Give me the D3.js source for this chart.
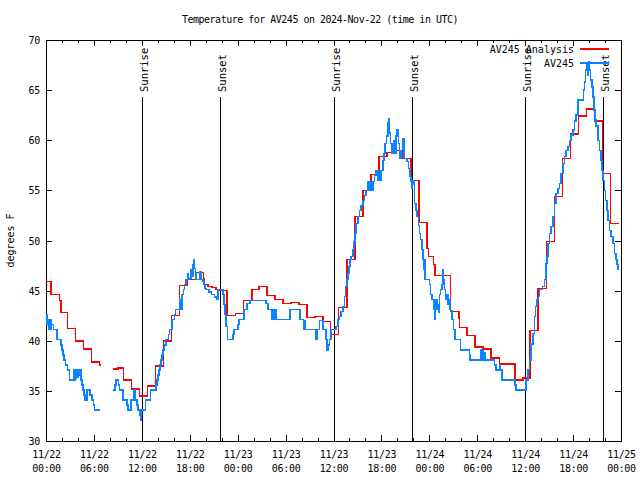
<!DOCTYPE html>
<html>
<head>
<meta charset="utf-8">
<script src="https://cdn.jsdelivr.net/npm/d3@7"></script>
<style>
  html, body { margin: 0; padding: 0; background: #fff; }
  svg { display: block; }
  text { font-family: "DejaVu Sans Mono", "Liberation Mono", monospace; font-size: 10px; fill: #000; }
  .title { font-size: 10px; letter-spacing: -0.5px; }
  .tick text { font-size: 10px; letter-spacing: -0.3px; }
  .sun { font-size: 10.5px; }
</style>
</head>
<body>
<svg id="chart" width="640" height="480"></svg>
<script>
// ---- DATA (hours since 2024-11-22 00:00 UTC) ----
const titleText = "Temperature for AV245 on 2024-Nov-22 (time in UTC)";
const yLabel = "degrees F";
const seriesNames = ["AV245 Analysis", "AV245"];
const seriesColors = ["#ff0000", "#0a84ff"];

const xMajorTicks = [0, 6, 12, 18, 24, 30, 36, 42, 48, 54, 60, 66, 72];
const xTickDates = ["11/22", "11/22", "11/22", "11/22", "11/23", "11/23", "11/23", "11/23", "11/24", "11/24", "11/24", "11/24", "11/25"];
const xTickTimes = ["00:00", "06:00", "12:00", "18:00", "00:00", "06:00", "12:00", "18:00", "00:00", "06:00", "12:00", "18:00", "00:00"];
const yTicks = [30, 35, 40, 45, 50, 55, 60, 65, 70];

const sunLabels = ["Sunrise", "Sunset", "Sunrise", "Sunset", "Sunrise", "Sunset"];
const sunTimes = [12.02, 21.77, 36.04, 45.8, 60.0, 69.72];

// AV245 Analysis (hourly, step-after); null = gap
const analysis = [
  [0, 45.9], [0.65, 44.6], [1.7, 44.0], [1.85, 42.8], [2.7, 41.2], [3.7, 40.0], [4.7, 39.2], [5.7, 37.9], [6.7, 37.6], [6.85, 37.6], [6.9, null],
  [8.45, 37.2], [9.0, 37.3], [9.7, 36.1], [10.7, 35.2], [11.7, 34.5], [12.7, 35.5], [13.7, 37.5], [14.7, 40.0], [15.7, 42.5],
  [16.7, 45.5], [17.7, 46.1], [18.7, 46.8], [19.72, 46.2], [19.85, 45.6], [20.3, 45.4], [20.8, 45.3], [21.3, 45.1], [21.7, 45.0],
  [22.65, 42.5], [23.7, 42.7], [24.7, 44.0], [25.77, 45.1], [26.7, 45.4], [27.7, 44.5], [28.7, 44.1], [29.7, 43.7], [30.7, 43.8],
  [31.7, 43.6], [32.7, 42.3], [33.7, 42.4], [34.7, 41.9], [35.65, 40.6], [36.6, 43.3], [37.7, 48.1], [38.7, 52.4], [39.7, 55.0],
  [40.7, 56.6], [41.7, 58.4], [42.7, 58.8], [43.7, 59.0], [44.7, 58.2], [45.7, 56.0], [46.7, 51.8], [47.7, 49.2], [47.9, 48.4],
  [48.55, 47.6], [48.7, 46.5], [50.65, 42.9], [51.7, 42.2], [51.8, 41.3], [52.73, 40.5], [53.74, 39.4], [54.69, 39.2], [55.74, 38.3],
  [56.79, 37.7], [58.75, 36.1], [59.7, 36.3], [60.6, 41.0], [61.6, 45.2], [62.7, 49.9], [63.7, 54.4], [64.7, 58.2], [65.7, 60.6],
  [66.7, 62.4], [67.7, 63.1], [68.7, 61.9], [69.7, 56.7], [70.7, 51.7], [71.7, 51.7]
];

// AV245 observations (step-after); null = gap
const observed = [
  [0.00, 42.6], [0.12, 41.6], [0.2, 42.1], [0.3, 41.1], [0.4, 42.1], [0.5, 41.1], [0.6, 42.1], [0.7, 41.6], [0.94, 41.1], [1.35, 40.1],
  [1.86, 39.6], [1.98, 39.1], [2.11, 38.6], [2.28, 38.1], [2.44, 37.6], [2.69, 37.1], [2.94, 36.1], [3.44, 36.6], [3.5, 37.1], [3.56, 36.1],
  [3.62, 37.1], [3.7, 36.3], [3.8, 37.1], [3.9, 36.4], [4.0, 37.1], [4.1, 36.6], [4.2, 37.1], [4.36, 36.1], [4.53, 35.6], [4.61, 35.1],
  [4.78, 34.6], [4.91, 34.1], [5.11, 35.1], [5.53, 34.6], [5.74, 34.1], [5.95, 33.6], [6.07, 33.1], [6.78, 33.1], [6.8, null],
  [8.45, 35.1], [8.66, 35.6], [8.79, 36.1], [9.08, 35.6], [9.2, 35.1], [9.62, 34.1], [10.12, 33.6], [10.29, 33.1], [10.66, 34.1],
  [10.96, 35.1], [11.03, 34.6], [11.1, 35.1], [11.17, 34.1], [11.37, 33.6], [11.54, 33.1], [11.71, 32.6], [11.83, 32.1], [11.92, 33.1],
  [12.46, 34.1], [13.08, 35.1], [13.8, 35.6], [13.88, 36.1], [14.0, 36.6], [14.13, 37.1], [14.3, 37.6], [14.42, 38.1], [14.55, 38.6],
  [14.63, 39.1], [14.84, 39.6], [15.05, 40.1], [15.34, 40.6], [15.46, 41.1], [15.8, 42.1], [16.09, 42.6], [16.21, 43.1], [16.72, 44.1],
  [16.8, 43.1], [16.88, 44.1], [16.95, 43.1], [17.05, 44.6], [17.22, 45.1], [17.34, 45.6], [17.55, 46.1], [17.7, 46.7], [17.76, 46.1],
  [17.97, 46.2], [18.18, 47.1], [18.3, 46.4], [18.38, 47.6], [18.51, 48.1], [18.6, 47.2], [18.72, 46.7], [18.8, 46.1], [19.3, 46.9],
  [19.4, 46.1], [19.64, 45.9], [19.76, 45.6], [19.93, 45.2], [20.06, 45.1], [20.4, 44.85], [20.75, 44.6], [21.1, 44.35], [21.4, 44.15],
  [21.56, 45.1], [22.14, 44.6], [22.26, 43.6], [22.39, 42.6], [22.56, 41.4], [22.73, 40.1], [23.39, 40.6], [23.52, 41.1], [24.02, 41.6],
  [24.15, 42.1], [24.82, 43.1], [25.14, 43.7], [25.57, 44.0], [27.57, 43.7], [27.78, 43.1], [28.3, 42.1], [28.38, 43.1], [28.45, 42.1],
  [28.52, 43.1], [28.74, 42.1], [28.8, 43.1], [28.86, 42.1], [30.58, 43.1], [31.8, 42.1], [32.24, 41.1], [32.3, 42.0], [32.38, 41.1],
  [32.45, 42.0], [32.52, 41.1], [33.83, 40.1], [33.95, 41.1], [34.25, 42.0], [34.7, 41.1], [35.08, 40.1], [35.2, 39.1], [35.37, 39.6],
  [35.5, 40.1], [35.71, 41.1], [36.34, 41.4], [36.54, 42.1], [36.75, 42.4], [36.96, 42.9], [37.17, 43.4], [37.38, 44.4], [37.5, 45.4],
  [37.67, 46.1], [37.8, 46.7], [37.92, 47.4], [38.09, 48.1], [38.22, 48.4], [38.42, 49.1], [38.55, 49.9], [38.67, 50.7], [38.84, 51.7],
  [39.05, 52.4], [39.26, 53.0], [39.47, 53.5], [39.67, 54.0], [39.88, 54.5], [40.1, 55.0], [40.3, 55.9], [40.5, 55.0], [40.6, 55.9],
  [40.7, 55.0], [40.8, 55.9], [40.9, 55.0], [41.0, 55.9], [41.13, 56.5], [41.35, 57.0], [41.5, 56.0], [41.6, 57.0], [41.7, 56.0],
  [41.8, 57.0], [41.9, 56.0], [42.0, 57.0], [42.17, 58.0], [42.3, 58.7], [42.47, 59.7], [42.64, 60.4], [42.8, 61.7], [42.9, 62.1],
  [43.0, 60.7], [43.14, 59.7], [43.25, 58.7], [43.35, 59.7], [43.45, 58.7], [43.55, 60.0], [43.65, 58.7], [43.85, 60.4], [43.98, 61.0],
  [44.14, 59.7], [44.26, 58.2], [44.47, 59.0], [44.68, 60.1], [44.8, 58.2], [45.23, 57.9], [45.39, 57.2], [45.56, 56.4], [45.73, 55.9],
  [45.81, 55.2], [45.9, 56.0], [46.06, 55.6], [46.14, 53.7], [46.36, 53.0], [46.48, 52.4], [46.65, 51.5], [46.77, 50.7], [46.9, 50.1],
  [47.06, 49.1], [47.18, 48.1], [47.31, 47.1], [47.38, 48.1], [47.44, 47.1], [47.48, 46.1], [48.02, 45.6], [48.15, 44.6], [48.31, 44.1],
  [48.56, 43.1], [48.73, 42.1], [48.8, 43.1], [48.86, 44.1], [48.99, 43.6], [49.1, 43.1], [49.19, 42.8], [49.27, 44.6], [49.4, 45.1],
  [49.56, 45.6], [49.69, 47.1], [49.77, 46.1], [49.9, 45.1], [50.03, 44.1], [50.19, 44.6], [50.31, 43.6], [50.52, 43.1], [50.6, 44.1],
  [50.65, 43.0], [50.81, 42.1], [51.03, 41.1], [51.23, 40.1], [51.9, 39.1], [53.03, 38.6], [53.1, 38.1], [54.5, 39.1], [54.6, 38.1],
  [54.7, 39.0], [54.8, 38.1], [54.9, 38.8], [55.03, 38.1], [56.16, 37.6], [56.37, 37.1], [56.79, 37.6], [56.91, 37.1], [57.08, 36.1],
  [58.75, 35.6], [58.87, 35.1], [60.13, 36.1], [60.33, 37.1], [60.54, 38.1], [60.76, 39.7], [60.96, 40.7], [61.17, 42.4], [61.29, 43.4],
  [61.46, 44.1], [61.67, 44.4], [61.79, 45.1], [62.2, 45.4], [62.42, 46.1], [62.63, 47.7], [62.71, 48.4], [62.84, 49.7], [63.05, 50.7],
  [63.26, 51.4], [63.46, 52.4], [63.67, 53.7], [63.89, 54.7], [64.09, 55.2], [64.3, 55.7], [64.51, 56.7], [64.72, 57.7], [64.93, 58.4],
  [65.14, 59.0], [65.34, 59.4], [65.55, 60.0], [65.76, 60.5], [65.97, 61.0], [66.18, 61.9], [66.39, 62.5], [66.59, 64.0], [67.31, 65.0],
  [67.43, 65.8], [67.56, 67.0], [67.77, 67.7], [67.84, 66.5], [67.93, 67.8], [68.06, 67.0], [68.18, 66.0], [68.35, 65.3], [68.47, 64.3],
  [68.6, 63.0], [68.77, 62.0], [68.9, 61.4], [69.1, 60.0], [69.31, 59.0], [69.52, 58.0], [69.64, 57.0], [69.76, 56.0], [69.93, 55.0],
  [70.06, 54.0], [70.22, 53.0], [70.35, 52.0], [70.56, 51.0], [70.77, 50.4], [70.98, 49.7], [71.19, 48.7], [71.4, 48.1], [71.53, 47.6],
  [71.65, 47.1], [71.69, 47.1]
];

// ---- LAYOUT ----
const W = 640, H = 480;
const L = 46, R = 621, T = 40, B = 441;

const svg = d3.select("#chart");
const x = d3.scaleLinear().domain([0, 72]).range([L, R]);
const y = d3.scaleLinear().domain([30, 70]).range([B, T]);

const xMinor = d3.range(0, 73, 2).filter(h => h % 6 !== 0);

// title
svg.append("text").attr("class", "title").attr("x", W / 2).attr("y", 19).attr("text-anchor", "middle")
  .attr("dominant-baseline", "central").text(titleText);

// y label
svg.append("text").attr("transform", `translate(10,${(T + B) / 2}) rotate(-90)`)
  .attr("text-anchor", "middle").attr("dominant-baseline", "central").text(yLabel);

// axes (ticks inward, mirrored)
const gAx = svg.append("g").attr("shape-rendering", "crispEdges");
const bottom = gAx.append("g").attr("transform", `translate(0,${B})`)
  .call(d3.axisBottom(x).tickValues(xMajorTicks).tickSize(-6).tickPadding(6).tickFormat((d, i) => ""));
bottom.selectAll(".tick text").each(function (d, i) {
  const t = d3.select(this);
  t.attr("y", 13).attr("dy", null).attr("dominant-baseline", "central");
  t.append("tspan").attr("x", 0).attr("dy", 0).text(xTickDates[i]);
  t.append("tspan").attr("x", 0).attr("dy", 14).text(xTickTimes[i]);
});
gAx.append("g").attr("transform", `translate(0,${B})`)
  .call(d3.axisBottom(x).tickValues(xMinor).tickSize(-3).tickFormat(""));
gAx.append("g").attr("transform", `translate(0,${T})`)
  .call(d3.axisTop(x).tickValues(xMajorTicks).tickSize(-6).tickFormat(""));
gAx.append("g").attr("transform", `translate(0,${T})`)
  .call(d3.axisTop(x).tickValues(xMinor).tickSize(-3).tickFormat(""));
const left = gAx.append("g").attr("transform", `translate(${L},0)`)
  .call(d3.axisLeft(y).tickValues(yTicks).tickSize(-6).tickPadding(6).tickFormat(d3.format("d")));
left.selectAll(".tick text").attr("dy", null).attr("dominant-baseline", "central");
gAx.append("g").attr("transform", `translate(${R},0)`)
  .call(d3.axisRight(y).tickValues(yTicks).tickSize(-6).tickFormat(""));
gAx.selectAll(".domain").remove();
gAx.selectAll(".tick line").attr("stroke", "#000");
gAx.selectAll("g").attr("font-family", null).attr("font-size", null);
gAx.selectAll("text").attr("fill", "#000");

// frame
gAx.append("rect").attr("x", L + 0.5).attr("y", T + 0.5).attr("width", R - L).attr("height", B - T)
  .attr("fill", "none").attr("stroke", "#000").attr("stroke-width", 1);

// sunrise/sunset
const gSun = svg.append("g");
sunTimes.forEach((t, i) => {
  const sx = Math.round(x(t)) + 0.5;
  gSun.append("line").attr("x1", sx).attr("x2", sx).attr("y1", 97).attr("y2", B)
    .attr("stroke", "#000").attr("stroke-width", 1).attr("shape-rendering", "crispEdges");
  gSun.append("text").attr("class", "sun").attr("transform", `translate(${sx + 1},92) rotate(-90)`)
    .attr("text-anchor", "start").attr("dominant-baseline", "central").text(sunLabels[i]);
});

// series
const line = d3.line().defined(d => d[1] != null).x(d => x(d[0])).y(d => y(d[1])).curve(d3.curveStepAfter);
const gData = svg.append("g").attr("shape-rendering", "crispEdges");
gData.append("path").datum(analysis).attr("d", line).attr("fill", "none")
  .attr("stroke", seriesColors[0]).attr("stroke-width", 1.5);
gData.append("path").datum(observed).attr("d", line).attr("fill", "none")
  .attr("stroke", seriesColors[1]).attr("stroke-width", 1.5);

// legend
seriesNames.forEach((name, i) => {
  const ly = 49 + i * 14;
  svg.append("text").attr("x", 574).attr("y", ly).attr("text-anchor", "end")
    .attr("dominant-baseline", "central").text(name);
  svg.append("line").attr("x1", 580).attr("x2", 609).attr("y1", ly).attr("y2", ly)
    .attr("stroke", seriesColors[i]).attr("stroke-width", 1.5).attr("shape-rendering", "crispEdges");
});
</script>
</body>
</html>
